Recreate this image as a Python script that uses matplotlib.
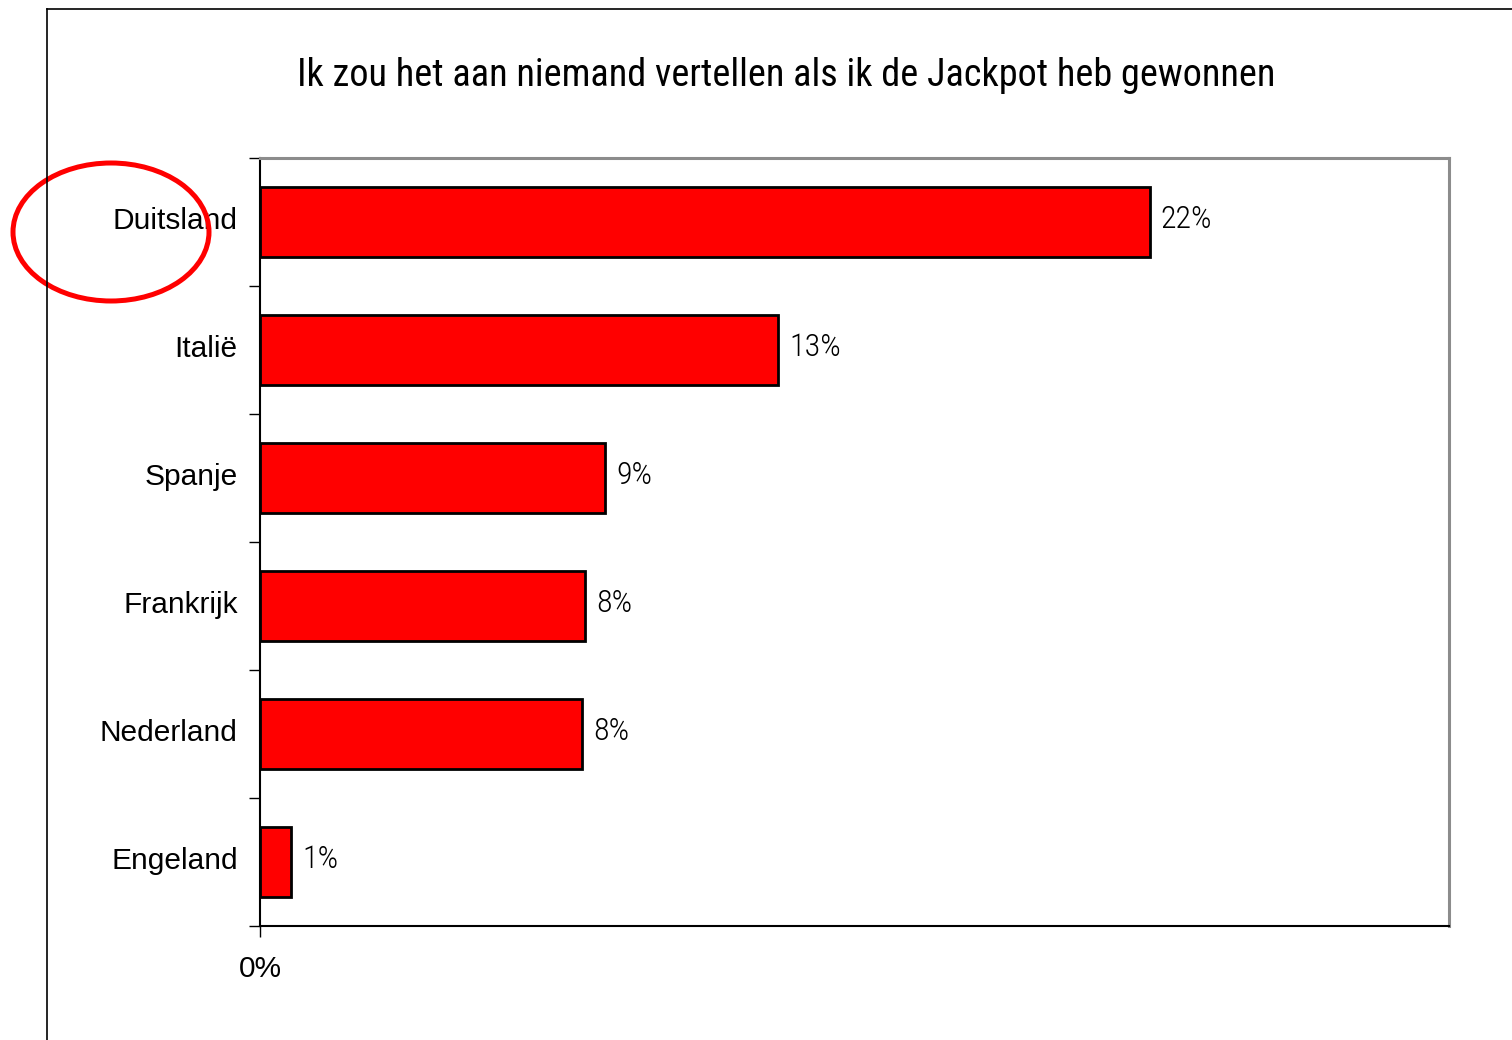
import matplotlib.pyplot as plt
from matplotlib.patches import Ellipse

countries = ['Duitsland', 'Italië', 'Spanje', 'Frankrijk', 'Nederland', 'Engeland']
shares = [0.2245, 0.1308, 0.0871, 0.0821, 0.0813, 0.0078]
title = 'Ik zou het aan niemand vertellen als ik de Jackpot heb gewonnen'

narrow = 'Roboto Condensed'

fig = plt.figure(figsize=(15.12, 10.4), dpi=100)
ax = fig.add_axes([260 / 1512, 1 - 926 / 1040, 1189 / 1512, 768 / 1040])

# outer chart frame (left and top edges only visible)
fig.add_artist(plt.Line2D([47 / 1512, 47 / 1512], [0, 1 - 9 / 1040], color='black', lw=1.2))
fig.add_artist(plt.Line2D([47 / 1512, 1], [1 - 9 / 1040, 1 - 9 / 1040], color='black', lw=1.2))

y = list(range(len(countries)))
ax.barh(y, shares, height=0.54, color='#ff0000', edgecolor='black', linewidth=2)
ax.set_ylim(len(countries) - 0.5, -0.5)
ax.set_xlim(0, 0.30)

for yi, v in zip(y, shares):
    ax.text(v + 0.0028, yi - 0.02, f'{round(v * 100)}%', va='center', ha='left',
            fontsize=23, family=narrow, weight='light')

ax.set_yticks([i - 0.5 for i in range(len(countries) + 1)], minor=False)
ax.set_yticklabels([])
ax.set_yticks([i - 0.03 for i in y], minor=True)
ax.set_yticklabels(countries, minor=True, fontsize=21.5, family='Liberation Sans')
ax.tick_params(axis='y', which='major', length=8, width=1, direction='out')
ax.tick_params(axis='y', which='minor', length=0, pad=16)

ax.set_xticks([0])
ax.set_xticklabels(['0%'], fontsize=21.5, family='Liberation Sans')
ax.tick_params(axis='x', length=8, width=1, direction='out', pad=13)

for s in ['left', 'bottom']:
    ax.spines[s].set_color('black')
    ax.spines[s].set_linewidth(1.5)
for s in ['top', 'right']:
    ax.spines[s].set_color('#8c8c8c')
    ax.spines[s].set_linewidth(2.2)

fig.text(786 / 1512, 1 - 75 / 1040, title, ha='center', va='center',
         fontsize=27.5, family=narrow)

fig.add_artist(Ellipse((111 / 1512, 1 - 232 / 1040), 196 / 1512, 138 / 1040,
                       fill=False, edgecolor='#ff0000', lw=3.6))

fig.savefig('out.png', dpi=100)
